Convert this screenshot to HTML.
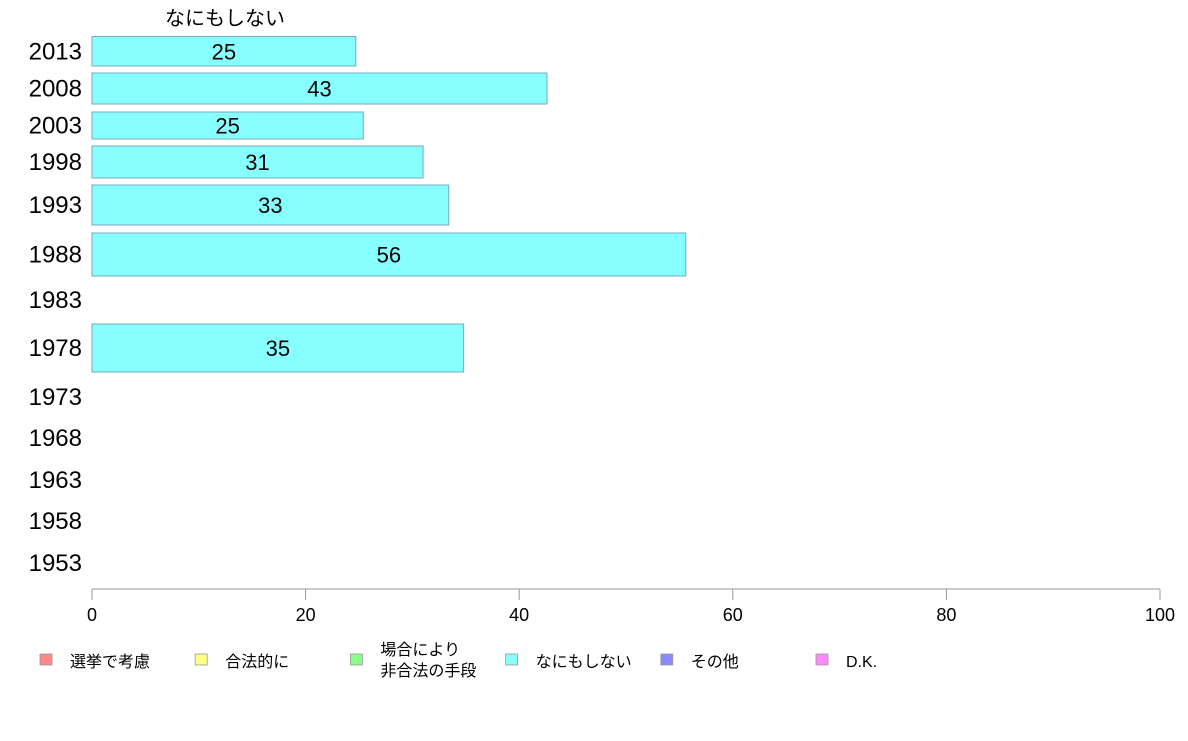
<!DOCTYPE html>
<html><head><meta charset="utf-8"><style>
html,body{margin:0;padding:0;background:#fff;}
svg text{font-family:"Liberation Sans","Noto Sans CJK JP",sans-serif;}
</style></head><body>
<svg id="chart" width="1188" height="736" xmlns="http://www.w3.org/2000/svg"></svg>
<script>
const years = ["2013","2008","2003","1998","1993","1988","1983","1978","1973","1968","1963","1958","1953"];
const values = [24.7,42.6,25.4,31.0,33.4,55.6,null,34.8,null,null,null,null,null];
const xTicks = [0,20,40,60,80,100];
const legendLabels = [["選挙で考慮"],["合法的に"],["場合により","非合法の手段"],["なにもしない"],["その他"],["D.K."]];
const legendColors = ["#ff8888","#ffff88","#88ff88","#88ffff","#8888ff","#ff88ff"];
// layout (pixel bands per row; not data)
const rowTop = [36.5,73,112,146,185,233,284,324,381,422,464,505,547];
const rowBot = [66,104,139,178,225,276,316,372,413,454,496,537,579];

const svg = document.getElementById('chart');
const NS = 'http://www.w3.org/2000/svg';
const x0 = 92, x1 = 1160, axisY = 589;
const xs = v => x0 + (v/100)*(x1-x0);
function mk(tag, attrs, parent){const e=document.createElementNS(NS,tag);for(const k in attrs)e.setAttribute(k,attrs[k]);(parent||svg).appendChild(e);return e;}

const title = mk('text',{x:225,y:25,'font-size':20,'text-anchor':'middle',fill:'#000'});


title.textContent='なにもしない';

years.forEach((y,i)=>{
  const cy=(rowTop[i]+rowBot[i])/2;
  const t=mk('text',{x:82,y:cy+8,'font-size':24,'text-anchor':'end',fill:'#000'});
  
  
  t.textContent=y;
  const v=values[i];
  if(v!==null){
    const r=mk('rect',{x:x0,y:rowTop[i],width:xs(v)-x0,height:rowBot[i]-rowTop[i],fill:'#88ffff',stroke:'#77aabb','stroke-width':1});
    
    
    const l=mk('text',{x:(x0+xs(v))/2,y:cy+8,'font-size':22,'text-anchor':'middle',fill:'#000'});
    
    
    l.textContent=Math.round(v);
  }
});

const ax=mk('line',{x1:x0,y1:axisY,x2:x1,y2:axisY,stroke:'#999','stroke-width':1});


xTicks.forEach(t=>{
  const tk=mk('line',{x1:xs(t),y1:axisY,x2:xs(t),y2:600,stroke:'#999','stroke-width':1});
  
  
  const tl=mk('text',{x:xs(t),y:621,'font-size':18,'text-anchor':'middle',fill:'#000'});
  
  
  tl.textContent=t;
});

legendLabels.forEach((lines,i)=>{
  const bx=40+i*155.2;
  const g=mk('g',{});
  
  
  mk('rect',{x:bx,y:654,width:12,height:11,fill:legendColors[i],stroke:'#999','stroke-width':0.8},g);
  lines.forEach((s,j)=>{
    const ty = lines.length===1 ? 667 : 655 + j*21;
    const t=mk('text',{x:bx+30,y:ty,'font-size':16,fill:'#000'},g);
    t.textContent=s;
  });
});
</script>
</body></html>
